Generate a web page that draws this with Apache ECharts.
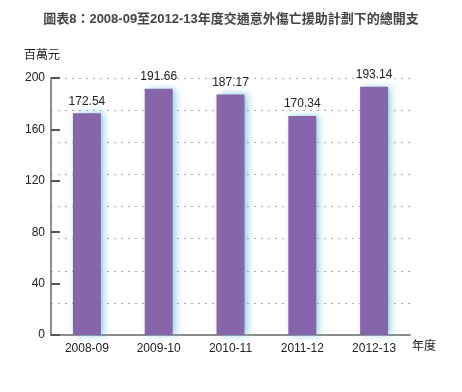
<!DOCTYPE html>
<html><head><meta charset="utf-8">
<script src="https://cdn.jsdelivr.net/npm/echarts@6/dist/echarts.min.js"></script>
<style>html,body{margin:0;padding:0;background:#fff}#c{width:462px;height:392px}</style>
</head><body><div id="c"></div>
<script>
const titleText = '圖表8：2008-09至2012-13年度交通意外傷亡援助計劃下的總開支';
const categories = ['2008-09', '2009-10', '2010-11', '2011-12', '2012-13'];
const values = [172.54, 191.66, 187.17, 170.34, 193.14];
const yTicks = [0, 40, 80, 120, 160, 200];
const yUnit = '百萬元';
const xUnit = '年度';

const font = '"Liberation Sans", Arial, "Noto Sans CJK TC", sans-serif';
const chart = echarts.init(document.getElementById('c'));
chart.setOption({
  animation: false,
  textStyle: { fontFamily: font },
  title: {
    text: titleText, left: 'center', top: 8,
    textStyle: { fontSize: 13, fontWeight: 'bold', color: '#444', fontFamily: font }
  },
  graphic: [
    { type: 'text', left: 24, top: 50, style: { text: yUnit, fontSize: 12, fill: '#222', fontFamily: font } },
    { type: 'text', left: 412, top: 341, style: { text: xUnit, fontSize: 12, fill: '#222', fontFamily: font } }
  ],
  grid: { left: 51, right: 52, top: 78, bottom: 57 },
  xAxis: {
    type: 'category', data: categories,
    axisLine: { lineStyle: { color: '#8c8c8c', width: 2 } },
    axisTick: { show: false },
    axisLabel: { color: '#222', fontSize: 12, margin: 8, fontFamily: font }
  },
  yAxis: [{
    type: 'value', min: 0, max: 200, interval: 40,
    axisLine: { show: true, lineStyle: { color: '#8c8c8c', width: 2 } },
    axisTick: { show: true, inside: true, length: 9, lineStyle: { color: '#555', width: 2 } },
    axisLabel: { color: '#222', fontSize: 12, margin: 6, fontFamily: font,
      formatter: v => yTicks.includes(v) ? String(v) : '' },
    splitLine: { show: false }
  }, {
    type: 'value', min: 0, max: 200, interval: 25, position: 'left',
    axisLine: { show: false }, axisTick: { show: false }, axisLabel: { show: false },
    splitLine: { show: true, lineStyle: { color: '#aaa', type: [2, 5], width: 1 } }
  }],
  series: [{
    type: 'bar', data: values, yAxisIndex: 0, barWidth: 28,
    itemStyle: { color: '#8765ab', shadowColor: 'rgba(100,190,215,0.75)', shadowBlur: 7, shadowOffsetX: 3 },
    label: { show: true, position: 'top', distance: 6, color: '#222', fontSize: 12, fontFamily: font,
      formatter: p => p.value.toFixed(2) }
  }]
});
</script></body></html>
